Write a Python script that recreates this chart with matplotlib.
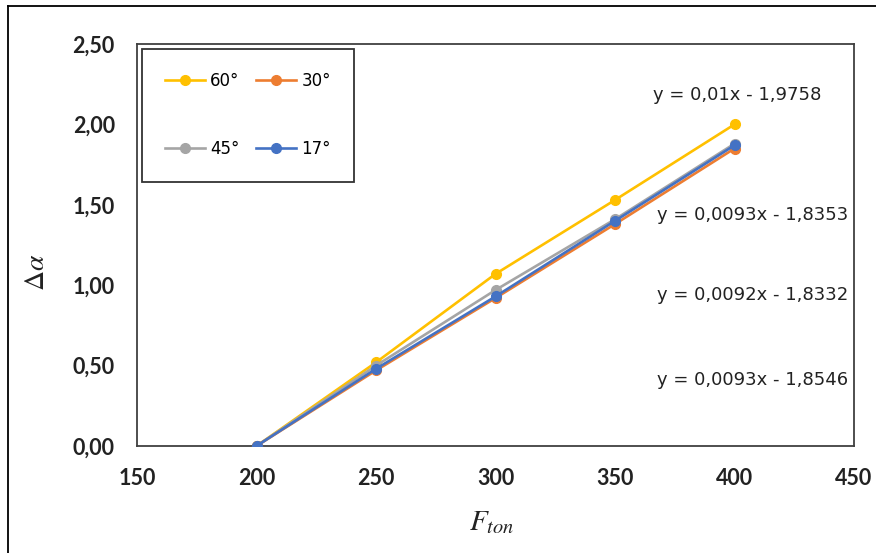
import matplotlib
matplotlib.use("Agg")
import matplotlib.pyplot as plt
from matplotlib.lines import Line2D

force = [200, 250, 300, 350, 400]
s60 = [0.00, 0.52, 1.07, 1.53, 2.00]
s45 = [0.00, 0.50, 0.97, 1.41, 1.88]
s30 = [0.00, 0.47, 0.92, 1.38, 1.85]
s17 = [0.00, 0.48, 0.93, 1.40, 1.87]
x_ticks = [150, 200, 250, 300, 350, 400, 450]
y_ticks = [0.0, 0.5, 1.0, 1.5, 2.0, 2.5]
equations = ["y = 0,01x - 1,9758", "y = 0,0093x - 1,8353",
             "y = 0,0092x - 1,8332", "y = 0,0093x - 1,8546"]

plt.rcParams['font.family'] = ['DejaVu Sans']
plt.rcParams['mathtext.fontset'] = 'stix'

W, H = 876, 553
fig = plt.figure(figsize=(W/100, H/100), dpi=100)
ax = fig.add_axes([137/W, 1-446/H, (854-137)/W, (446-44)/H])

lw = 1.9
ms = 7
l60, = ax.plot(force, s60, color='#FFC000', lw=lw, marker='o', ms=ms, label='60°', zorder=3)
l45, = ax.plot(force, s45, color='#A5A5A5', lw=lw, marker='o', ms=ms, label='45°', zorder=3)
l30, = ax.plot(force, s30, color='#ED7D31', lw=lw, marker='o', ms=ms, label='30°', zorder=3)
l17, = ax.plot(force, s17, color='#4472C4', lw=lw, marker='o', ms=ms, label='17°', zorder=4)

ax.set_xlim(150, 450)
ax.set_ylim(0, 2.5)
ax.set_xticks(x_ticks)
ax.set_xticklabels([str(v) for v in x_ticks])
ax.set_yticks(y_ticks)
ax.set_yticklabels([f"{v:.2f}".replace('.', ',') for v in y_ticks])
ax.tick_params(length=0, labelsize=15.5, colors='#222222', pad=16)
for lab in ax.get_xticklabels() + ax.get_yticklabels():
    lab.set_fontweight('bold')
    lab.set_fontfamily('Lato')
for sp in ax.spines.values():
    sp.set_color('#404040')
    sp.set_linewidth(1.3)

fig.text(36/W, 1-272/H, r'$\Delta\alpha$', fontsize=20, rotation=90,
         ha='center', va='center', color='#222222')
fig.text(492/W, 1-522/H, r'$F_{ton}$', fontsize=21,
         ha='center', va='center', color='#222222')

leg = ax.legend(handles=[l60, l45, l30, l17], ncol=2, loc='upper left',
                bbox_to_anchor=(5/717, 397/402), borderaxespad=0,
                fontsize=12, frameon=True,
                fancybox=False, edgecolor='black', labelspacing=3.0,
                borderpad=1.4, handlelength=2.4, handletextpad=0.3,
                columnspacing=1.0)
leg.get_frame().set_linewidth(1.3)

eq_pos = [(737, 95), (753, 215), (753, 295), (753, 380)]
for (px, py), txt in zip(eq_pos, equations):
    fig.text(px/W, 1-py/H, txt, ha='center', va='center', fontsize=13, color='#222222')

fig.add_artist(Line2D([8/W, 1], [1-6/H, 1-6/H], color='black', lw=1.3, transform=fig.transFigure))
fig.add_artist(Line2D([8/W, 8/W], [0, 1-6/H], color='black', lw=1.3, transform=fig.transFigure))

fig.savefig('out.png', dpi=100)
